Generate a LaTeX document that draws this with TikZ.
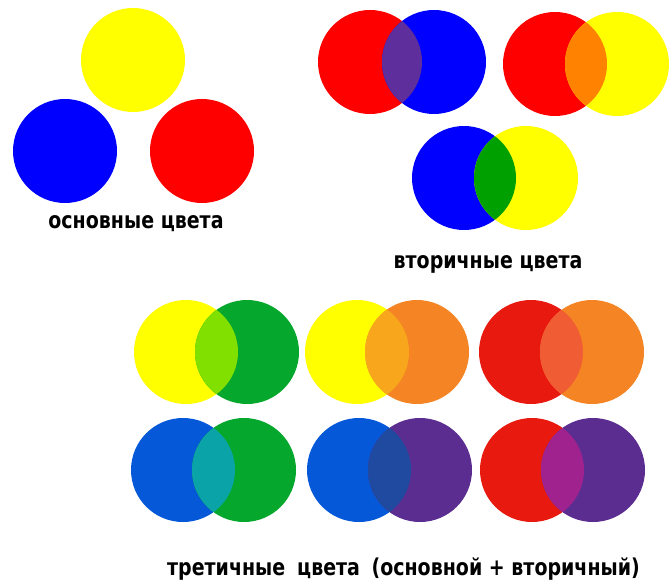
\documentclass[tikz,border=0pt]{standalone}
\usepackage{fontspec}
\setmainfont{DejaVu Sans}
\definecolor{pY}{HTML}{FFFF00}
\definecolor{pB}{HTML}{0000FF}
\definecolor{pR}{HTML}{FF0000}
\definecolor{sRB}{HTML}{5E2E9C}
\definecolor{sRY}{HTML}{FF8200}
\definecolor{sBY}{HTML}{00A000}
\definecolor{tY}{HTML}{FFFF00}
\definecolor{tG}{HTML}{05A82D}
\definecolor{tO}{HTML}{F58424}
\definecolor{tR}{HTML}{E81A10}
\definecolor{tB}{HTML}{0558D8}
\definecolor{tP}{HTML}{5B2D90}
\definecolor{xYG}{HTML}{82E000}
\definecolor{xYO}{HTML}{F8A61C}
\definecolor{xRO}{HTML}{F05C34}
\definecolor{xBG}{HTML}{0AA3A8}
\definecolor{xBP}{HTML}{1F4AA0}
\definecolor{xRP}{HTML}{A0228E}
\tikzset{lbl/.style={font=\bfseries\fontsize{19}{22}\selectfont, inner sep=0pt, anchor=base}}
\newcommand{\tallt}[1]{\scalebox{1}[1.22]{#1}}
\newcommand{\pairc}[6]{% x1 y1 col1 x2 col2 mix
  \fill[#3] (#1,#2) circle (52);
  \fill[#5] (#4,#2) circle (52);
  \begin{scope}
    \clip (#1,#2) circle (52);
    \fill[#6] (#4,#2) circle (52);
  \end{scope}}
\begin{document}
\begin{tikzpicture}[x=1pt,y=-1pt]
\useasboundingbox (0,0) rectangle (669,580);
\fill[white] (0,0) rectangle (669,580);
% primary
\fill[pY] (133,60) circle (52);
\fill[pB] (65,151) circle (52);
\fill[pR] (202,151) circle (52);
\node[lbl] (t1) at (136,229) {\tallt{основные цвета}};
% secondary
\pairc{370}{62}{pR}{434}{pB}{sRB}
\pairc{555}{64}{pR}{617}{pY}{sRY}
\pairc{464}{178}{pB}{526}{pY}{sBY}
\node[lbl] (t2) at (488,268) {\tallt{вторичные цвета}};
% tertiary
\pairc{186}{352}{tY}{247}{tG}{xYG}
\pairc{357}{352}{tY}{417}{tO}{xYO}
\pairc{531}{352}{tR}{592}{tO}{xRO}
\pairc{183}{470}{tB}{244}{tG}{xBG}
\pairc{359}{470}{tB}{420}{tP}{xBP}
\pairc{532}{470}{tR}{593}{tP}{xRP}
\node[lbl, anchor=base west] (t3a) at (167,575) {\tallt{третичные}};
\node[lbl, anchor=base west] (t3b) at (297,575) {\tallt{цвета}};
\node[lbl, anchor=base east] (t3c) at (640,575) {\tallt{(основной + вторичный)}};
\end{tikzpicture}
\end{document}
